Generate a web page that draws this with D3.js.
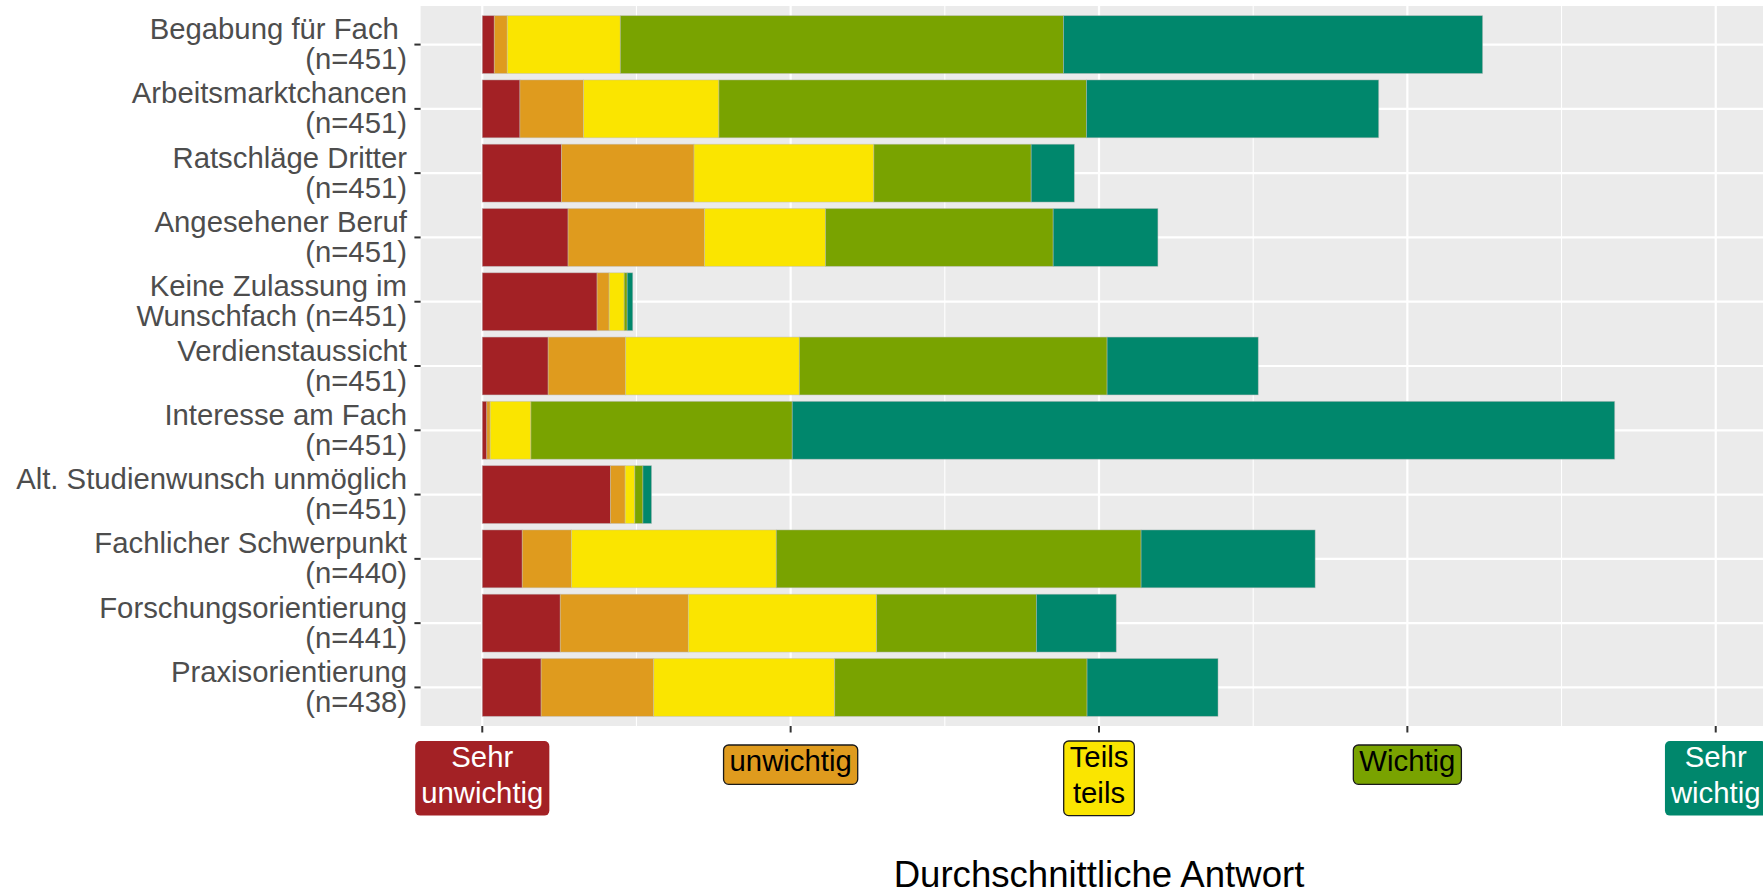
<!DOCTYPE html>
<html>
<head>
<meta charset="utf-8">
<script src="https://cdn.jsdelivr.net/npm/d3@7"></script>
<style>
  html, body { margin: 0; padding: 0; background: #ffffff; }
  svg { display: block; font-family: "Liberation Sans", Arial, sans-serif; }
  text { white-space: pre; }
</style>
</head>
<body>
<svg id="chart" width="1763" height="891"></svg>
<script>
// ---------------- data ----------------
const categories = [
  "Begabung für Fach \n(n=451)",
  "Arbeitsmarktchancen\n(n=451)",
  "Ratschläge Dritter\n(n=451)",
  "Angesehener Beruf\n(n=451)",
  "Keine Zulassung im\nWunschfach (n=451)",
  "Verdienstaussicht\n(n=451)",
  "Interesse am Fach\n(n=451)",
  "Alt. Studienwunsch unmöglich\n(n=451)",
  "Fachlicher Schwerpunkt\n(n=440)",
  "Forschungsorientierung\n(n=441)",
  "Praxisorientierung\n(n=438)"
];
// share of answers per response level (percent)
const sehrUnwichtig = [1.2, 4.2, 13.4, 12.7, 76.3, 8.5, 0.4, 75.7, 4.8, 12.3, 8.0];
const unwichtig     = [1.3, 7.1, 22.4, 20.2, 8.0, 10.0, 0.3, 8.7, 5.9, 20.2, 15.3];
const teilsTeils    = [11.3, 15.1, 30.4, 17.9, 10.0, 22.4, 3.6, 5.7, 24.6, 29.7, 24.6];
const wichtig       = [44.3, 41.0, 26.6, 33.7, 2.0, 39.7, 23.1, 4.8, 43.8, 25.2, 34.3];
const sehrWichtig   = [41.9, 32.6, 7.3, 15.5, 3.7, 19.5, 72.7, 5.1, 20.9, 12.6, 17.8];

const levels = ["Sehr\nunwichtig", "unwichtig", "Teils\nteils", "Wichtig", "Sehr\nwichtig"];
const levelColors = ["#A32125", "#DF9B1E", "#FAE500", "#79A300", "#00876C"];
const levelTextColors = ["#ffffff", "#000000", "#000000", "#000000", "#ffffff"];
const levelBorders = [false, true, true, true, false];
const tickValues = [0, 1, 2, 3, 4];
const minorTicks = [0.5, 1.5, 2.5, 3.5];
const axisTitle = "Durchschnittliche Antwort";

const series = [sehrUnwichtig, unwichtig, teilsTeils, wichtig, sehrWichtig];

// ---------------- layout ----------------
const W = 1763, H = 891;
const panel = { left: 420.6, right: 1777.4, top: 6, bottom: 726 };

const svg = d3.select("#chart");

const x = d3.scaleLinear().domain([-0.2, 4.2]).range([panel.left, panel.right]);
const y = d3.scaleBand().domain(categories).range([panel.top, panel.bottom])
  .paddingInner(0.1).paddingOuter(0.15).align(0.5);

// Build stacked segments: bar length = mean answer - 1, split by answer shares
const rows = categories.map((c, i) => {
  const p = series.map(s => s[i]);
  const total = d3.sum(p);
  const mean = d3.sum(p, (v, k) => (k + 1) * v) / total;
  const len = mean - 1;
  let acc = 0;
  const segs = p.map((v, k) => {
    const w = v / total * len;
    const seg = { cat: c, k, x0: acc, x1: acc + w };
    acc += w;
    return seg;
  });
  return { cat: c, segs };
});

const clip = svg.append("clipPath").attr("id", "pclip")
  .append("rect").attr("x", panel.left).attr("y", panel.top)
  .attr("width", W - panel.left).attr("height", panel.bottom - panel.top);

// panel background
svg.append("rect")
  .attr("x", panel.left).attr("y", panel.top)
  .attr("width", panel.right - panel.left).attr("height", panel.bottom - panel.top)
  .attr("fill", "#EBEBEB");

const grid = svg.append("g").attr("clip-path", "url(#pclip)");
grid.selectAll("line.minor").data(minorTicks).enter().append("line")
  .attr("x1", d => x(d)).attr("x2", d => x(d))
  .attr("y1", panel.top).attr("y2", panel.bottom)
  .attr("stroke", "#ffffff").attr("stroke-width", 1.1);
grid.selectAll("line.majx").data(tickValues).enter().append("line")
  .attr("x1", d => x(d)).attr("x2", d => x(d))
  .attr("y1", panel.top).attr("y2", panel.bottom)
  .attr("stroke", "#ffffff").attr("stroke-width", 2.2);
grid.selectAll("line.majy").data(categories).enter().append("line")
  .attr("x1", panel.left).attr("x2", panel.right)
  .attr("y1", d => y(d) + y.bandwidth() / 2).attr("y2", d => y(d) + y.bandwidth() / 2)
  .attr("stroke", "#ffffff").attr("stroke-width", 2.2);

// bars
const bars = svg.append("g").attr("clip-path", "url(#pclip)");
bars.selectAll("g.row").data(rows).enter().append("g")
  .selectAll("rect").data(d => d.segs).enter().append("rect")
  .attr("x", d => x(d.x0))
  .attr("width", d => Math.max(0, x(d.x1) - x(d.x0)))
  .attr("y", d => y(d.cat))
  .attr("height", y.bandwidth())
  .attr("fill", d => levelColors[d.k])
  .attr("stroke", "rgba(190,190,190,0.55)")
  .attr("stroke-width", 0.8);

// y axis ticks + labels
const yAxis = svg.append("g");
yAxis.selectAll("line").data(categories).enter().append("line")
  .attr("x1", panel.left - 6.2).attr("x2", panel.left)
  .attr("y1", d => y(d) + y.bandwidth() / 2).attr("y2", d => y(d) + y.bandwidth() / 2)
  .attr("stroke", "#333333").attr("stroke-width", 2);
const ylab = yAxis.selectAll("text").data(categories).enter().append("text")
  .attr("text-anchor", "end")
  .attr("font-size", 29.3)
  .attr("fill", "#4D4D4D");
ylab.each(function(d) {
  const cy = y(d) + y.bandwidth() / 2;
  const lines = d.split("\n");
  d3.select(this).selectAll("tspan").data(lines).enter().append("tspan")
    .attr("x", 407)
    .attr("y", (l, j) => cy - 5.5 + j * 30)
    .text(l => l);
});

// x axis ticks
const xAxis = svg.append("g");
xAxis.selectAll("line").data(tickValues).enter().append("line")
  .attr("x1", d => x(d)).attr("x2", d => x(d))
  .attr("y1", panel.bottom).attr("y2", panel.bottom + 6.5)
  .attr("stroke", "#333333").attr("stroke-width", 2);

// x labels as coloured boxes
const lab = xAxis.selectAll("g.lab").data(tickValues).enter().append("g");
lab.each(function(d, i) {
  const g = d3.select(this);
  const lines = levels[i].split("\n");
  const n = lines.length;
  const top = n === 1 ? 745 : 741;
  const lineGap = 35.3;
  const boxH = 39.3 + (n - 1) * lineGap;
  const rect = g.append("rect");
  const t = g.append("text")
    .attr("text-anchor", "middle")
    .attr("font-size", 29.3)
    .attr("fill", levelTextColors[i]);
  lines.forEach((l, j) => {
    t.append("tspan").attr("x", x(d)).attr("y", top + 26.3 + j * lineGap).text(l);
  });
  let maxW = 0;
  t.selectAll("tspan").each(function() { maxW = Math.max(maxW, this.getComputedTextLength()); });
  const boxW = maxW + 12;
  rect.attr("x", x(d) - boxW / 2).attr("y", top)
    .attr("width", boxW).attr("height", boxH)
    .attr("rx", 5).attr("ry", 5)
    .attr("fill", levelColors[i])
    .attr("stroke", levelBorders[i] ? "#1a1a1a" : "none")
    .attr("stroke-width", 1.3);
});

// axis title
svg.append("text")
  .attr("x", (panel.left + panel.right) / 2)
  .attr("y", 886.5)
  .attr("text-anchor", "middle")
  .attr("font-size", 36.6)
  .attr("fill", "#000000")
  .text(axisTitle);
</script>
</body>
</html>
